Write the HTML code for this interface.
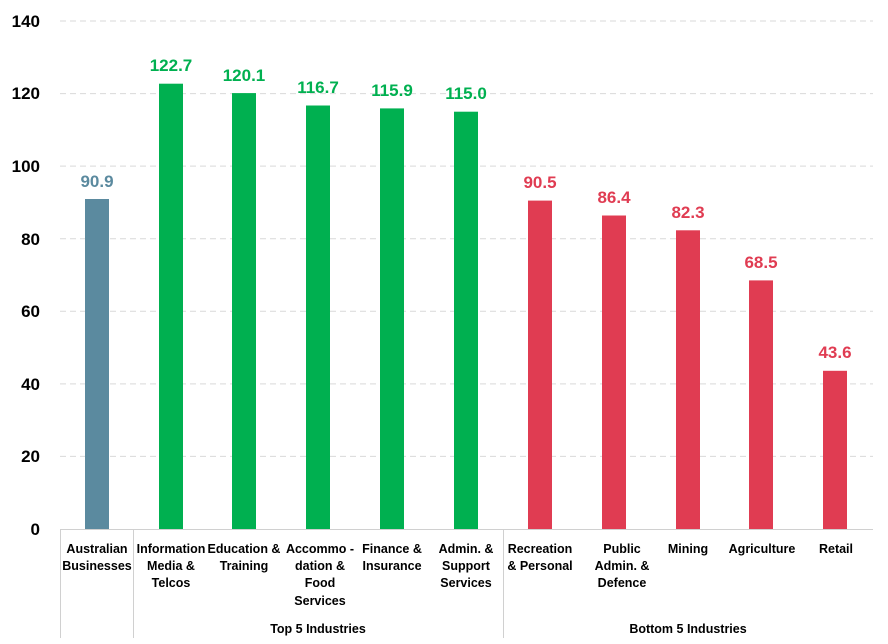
<!DOCTYPE html>
<html><head><meta charset="utf-8"><style>body{margin:0;background:#fff}svg{display:block}</style></head>
<body>
<svg width="888" height="644" xmlns="http://www.w3.org/2000/svg" font-family="Liberation Sans, sans-serif">
<g stroke="#d9d9d9" stroke-width="1" stroke-dasharray="6,4">
<line x1="60" x2="873" y1="21" y2="21"/><line x1="60" x2="873" y1="93.6" y2="93.6"/>
<line x1="60" x2="873" y1="166.1" y2="166.1"/><line x1="60" x2="873" y1="238.7" y2="238.7"/>
<line x1="60" x2="873" y1="311.3" y2="311.3"/><line x1="60" x2="873" y1="383.9" y2="383.9"/>
<line x1="60" x2="873" y1="456.4" y2="456.4"/>
</g>
<g font-size="17" font-weight="bold" fill="#000" text-anchor="end">
<text x="40" y="27">140</text><text x="40" y="99">120</text><text x="40" y="172">100</text>
<text x="40" y="245">80</text><text x="40" y="317">60</text><text x="40" y="390">40</text>
<text x="40" y="462">20</text><text x="40" y="535">0</text>
</g>
<g>
<rect x="85" y="199" width="24" height="330" fill="#5B8A9F"/>
<rect x="159" y="83.7" width="24" height="445.3" fill="#00B050"/>
<rect x="232" y="93.1" width="24" height="435.9" fill="#00B050"/>
<rect x="306" y="105.5" width="24" height="423.5" fill="#00B050"/>
<rect x="380" y="108.4" width="24" height="420.6" fill="#00B050"/>
<rect x="454" y="111.7" width="24" height="417.3" fill="#00B050"/>
<rect x="528" y="200.6" width="24" height="328.4" fill="#E03C52"/>
<rect x="602" y="215.5" width="24" height="313.5" fill="#E03C52"/>
<rect x="676" y="230.3" width="24" height="298.7" fill="#E03C52"/>
<rect x="749" y="280.4" width="24" height="248.6" fill="#E03C52"/>
<rect x="823" y="370.8" width="24" height="158.2" fill="#E03C52"/>
</g>
<g font-size="17" font-weight="bold" text-anchor="middle">
<text x="97" y="187" fill="#5B8A9F">90.9</text>
<text x="171" y="71" fill="#00B050">122.7</text>
<text x="244" y="81" fill="#00B050">120.1</text>
<text x="318" y="93" fill="#00B050">116.7</text>
<text x="392" y="96" fill="#00B050">115.9</text>
<text x="466" y="99" fill="#00B050">115.0</text>
<text x="540" y="188" fill="#E03C52">90.5</text>
<text x="614" y="203" fill="#E03C52">86.4</text>
<text x="688" y="218" fill="#E03C52">82.3</text>
<text x="761" y="268" fill="#E03C52">68.5</text>
<text x="835" y="358" fill="#E03C52">43.6</text>
</g>
<g stroke="#d0d0d0" stroke-width="1">
<line x1="60" x2="873" y1="529.5" y2="529.5"/>
<line x1="60.5" x2="60.5" y1="529" y2="638"/>
<line x1="133.5" x2="133.5" y1="529" y2="638"/>
<line x1="503.5" x2="503.5" y1="529" y2="638"/>
</g>
<g font-size="12.5" font-weight="bold" fill="#000" text-anchor="middle">
<text x="97" y="553">Australian</text><text x="97" y="570">Businesses</text>
<text x="171" y="553">Information</text><text x="171" y="570">Media &amp;</text><text x="171" y="587">Telcos</text>
<text x="244" y="553">Education &amp;</text><text x="244" y="570">Training</text>
<text x="320" y="553">Accommo -</text><text x="320" y="570">dation &amp;</text><text x="320" y="587">Food</text><text x="320" y="605">Services</text>
<text x="392" y="553">Finance &amp;</text><text x="392" y="570">Insurance</text>
<text x="466" y="553">Admin. &amp;</text><text x="466" y="570">Support</text><text x="466" y="587">Services</text>
<text x="540" y="553">Recreation</text><text x="540" y="570">&amp; Personal</text>
<text x="622" y="553">Public</text><text x="622" y="570">Admin. &amp;</text><text x="622" y="587">Defence</text>
<text x="688" y="553">Mining</text>
<text x="762" y="553">Agriculture</text>
<text x="836" y="553">Retail</text>
<text x="318" y="633">Top 5 Industries</text>
<text x="688" y="633">Bottom 5 Industries</text>
</g>
</svg>
</body></html>
